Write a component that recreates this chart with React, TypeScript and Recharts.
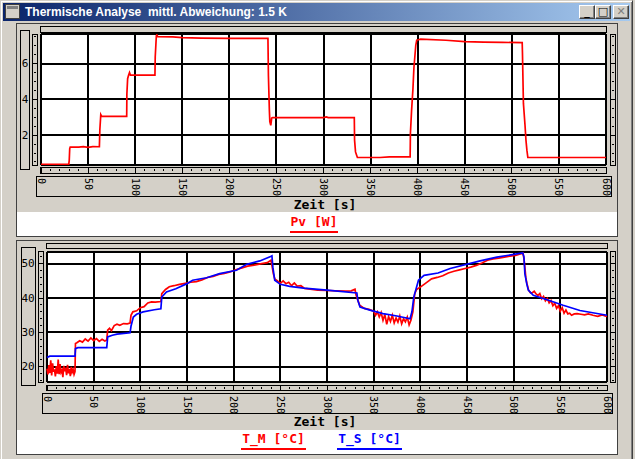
import React from "react";
import { LineChart, Line, XAxis, YAxis, CartesianGrid, ReferenceLine } from "recharts";

const FACE = "#D4D0C8";
const MONO = "'DejaVu Sans Mono', monospace";

// time axis [s]
const timeLabels = [0, 50, 100, 150, 200, 250, 300, 350, 400, 450, 500, 550, 600];
const timeMinor = Array.from({ length: 61 }, (_, i) => i * 10);

// Pv [W]
const pvLabels = [2, 4, 6];
const pvMinor = [0.5, 1, 1.5, 2, 2.5, 3, 3.5, 4, 4.5, 5, 5.5, 6, 6.5, 7, 7.5];
const pvDomain = [0.33, 7.65];
const pvT = [0, 29.5, 30, 30.5, 31, 40, 45, 50, 55, 62, 62.5, 63.5, 64.5, 91, 91.2, 92, 93, 94, 95, 121, 121.3, 122.5, 123, 124, 140, 150, 170, 200, 241, 241.5, 242.5, 243, 244, 245, 246, 300, 303, 305, 332.7, 333, 334, 335, 336, 360, 370, 392, 392.3, 393.5, 395, 396, 398, 399, 401, 403, 430, 450, 470, 490, 511, 511.3, 512.3, 514, 515, 516, 517, 600];
const pvW = [0.36, 0.36, 0.6, 1.25, 1.33, 1.33, 1.36, 1.32, 1.36, 1.35, 2.3, 3.15, 3.05, 3.05, 4.3, 5.15, 5.35, 5.5, 5.35, 5.35, 6.37, 7.55, 7.6, 7.5, 7.49, 7.45, 7.42, 7.4, 7.4, 5.35, 3.4, 2.75, 2.55, 2.95, 2.98, 2.98, 3.02, 2.98, 2.98, 1.72, 1.06, 0.9, 0.75, 0.75, 0.78, 0.78, 2.09, 3.34, 4.6, 5.75, 7.02, 7.3, 7.33, 7.36, 7.3, 7.22, 7.2, 7.18, 7.17, 6.56, 3.77, 2.55, 1.72, 1.16, 0.75, 0.75];

// temperatures [°C]
const tempLabels = [20, 30, 40, 50];
const tempMinor = [16, 18, 20, 22, 24, 26, 28, 30, 32, 34, 36, 38, 40, 42, 44, 46, 48, 50, 52];
const tempDomain = [15.6, 53.4];
const tsT = [0, 3, 30, 30.5, 33, 64, 65, 70, 75, 89, 90, 92.5, 96, 103, 115, 122, 123, 128, 138, 150, 156, 171, 185, 203, 214, 228, 239.6, 241, 242, 243, 244, 250, 260, 275, 300, 332, 333, 335.4, 346, 360, 375, 389, 391, 393, 398, 404, 419, 432, 464, 482, 500, 509.7, 511, 512, 514, 515.7, 521, 535, 553, 571, 600];
const tsV = [22.7, 23.1, 23.1, 25.3, 25.6, 25.6, 28.7, 29.2, 29.5, 29.9, 31.8, 34.5, 35.3, 36.0, 36.6, 36.9, 40.3, 41.8, 42.7, 44.2, 45.2, 45.9, 47.1, 48.1, 49.8, 50.8, 52.1, 52.3, 49, 47.1, 45.2, 44.0, 43.4, 42.9, 42.3, 41.5, 39.4, 37.4, 36.5, 35.5, 34.8, 34.0, 36, 40.3, 45.2, 46.6, 47.3, 48.6, 50.8, 51.9, 52.7, 53.1, 52, 47.1, 44.2, 42.3, 40.8, 39.6, 37.9, 36.4, 35.0];
const tmT = [0, 1, 2, 3, 4, 5, 6, 7, 8, 9, 10, 11, 12, 13, 14, 15, 16, 17, 18, 19, 20, 21, 22, 23, 24, 25, 26, 27, 28, 29, 30, 30.5, 32, 35, 38, 41, 44, 47, 50, 53, 56, 59, 62, 64, 65, 67, 69, 72, 75, 78, 82, 86, 89, 90, 92, 96, 100, 104, 108, 112, 116, 122, 123, 127, 131, 136, 142, 148, 154, 160, 166, 172, 178, 184, 190, 196, 203, 209, 215, 222, 230, 236, 240, 241, 242.5, 244, 247, 250, 253, 256, 259, 262, 265, 268, 272, 276, 282, 290, 300, 310, 320, 326, 330, 331, 333, 335, 340, 345, 350, 352, 354, 356, 358, 360, 362, 364, 366, 368, 370, 372, 374, 376, 378, 380, 382, 384, 386, 388, 390, 392, 394, 396, 400, 404, 408, 412, 418, 424, 430, 436, 442, 448, 454, 460, 466, 472, 478, 484, 490, 496, 502, 508, 510, 511, 512, 513, 514, 516, 518, 520, 522, 524, 526, 528, 530, 532, 534, 536, 538, 540, 542, 544, 546, 548, 550, 552, 554, 556, 558, 560, 562, 565, 568, 572, 576, 580, 585, 590, 595, 598, 600];
const tmV = [19.5, 17.8, 20.5, 18.2, 21.9, 17.5, 21.0, 18.6, 19.3, 17.2, 20.2, 18.0, 22.1, 17.9, 20.8, 18.4, 19.0, 17.0, 20.3, 18.7, 19.8, 17.6, 20.6, 18.1, 19.4, 17.3, 20.0, 18.5, 19.2, 17.8, 18.6, 26.8, 27.0, 27.6, 27.2, 28.1, 27.5, 28.4, 27.6, 28.2, 27.4, 28.0, 27.5, 27.8, 30.7, 31.2, 30.5, 32.0, 32.4, 32.1, 32.6, 32.5, 32.7, 35.0, 36.0, 36.3, 37.2, 37.5, 38.6, 38.9, 38.8, 39.0, 41.3, 42.5, 43.3, 43.6, 44.0, 44.3, 44.6, 44.8, 45.3, 46.0, 46.3, 46.9, 47.2, 47.6, 48.3, 48.8, 49.3, 49.6, 50.0, 50.3, 51.0, 49.5, 47.1, 45.6, 45.0, 44.3, 45.0, 44.2, 44.6, 43.6, 44.4, 43.5, 43.6, 42.8, 42.6, 42.3, 42.2, 42.1, 42.0, 42.1, 42.6, 41.0, 39.4, 37.9, 37.0, 36.7, 36.2, 35.0, 36.0, 34.5, 35.8, 33.5, 35.2, 32.4, 34.6, 33.2, 35.0, 32.8, 34.2, 33.0, 34.8, 32.5, 34.0, 33.1, 34.5, 32.2, 33.6, 36.0, 41.3, 42.5, 43.2, 44.0, 44.8, 45.6, 46.0, 46.5, 47.3, 47.8, 48.2, 48.6, 49.0, 49.5, 50.2, 51.0, 51.4, 51.6, 51.9, 52.2, 52.4, 52.9, 53.1, 51.5, 49.0, 46.0, 44.5, 42.3, 41.5, 41.6, 42.0, 41.2, 40.8, 41.3, 39.8, 40.5, 39.2, 39.9, 38.6, 39.3, 37.8, 38.5, 37.0, 37.8, 36.2, 37.2, 35.6, 36.5, 35.4, 35.6, 35.0, 35.4, 35.5, 35.3, 35.1, 35.4, 35.0, 34.7, 35.1, 34.8, 34.7];

const zip = (t: number[], v: number[]) => t.map((x, i) => ({ t: x, v: v[i] }));

const stripH = (y0: number, y1: number, majors: number[]) => (p: any) => {
  const v = p.payload.value;
  const m = (y0 + y1) / 2;
  return majors.includes(v) ? (
    <line x1={p.x} x2={p.x} y1={y0} y2={y1} stroke="#000" shapeRendering="crispEdges" />
  ) : (
    <line x1={p.x} x2={p.x} y1={m - 1} y2={m + 1} stroke="#000" shapeRendering="crispEdges" />
  );
};

const stripV = (x0: number, x1: number, majors: number[], labelX?: number, labels?: number[]) => (p: any) => {
  const v = p.payload.value;
  const m = (x0 + x1) / 2;
  return (
    <g>
      {majors.includes(v) ? (
        <line x1={x0} x2={x1} y1={p.y} y2={p.y} stroke="#000" shapeRendering="crispEdges" />
      ) : (
        <line x1={m - 1} x2={m + 1} y1={p.y} y2={p.y} stroke="#000" shapeRendering="crispEdges" />
      )}
      {labelX !== undefined && labels && labels.includes(v) && (
        <text x={labelX} y={p.y} textAnchor="middle" dominantBaseline="central" fontSize={11} fontFamily={MONO} fill="#000">
          {v}
        </text>
      )}
    </g>
  );
};

const timeTick = (y0: number, y1: number, labelTop: number) => (p: any) => {
  const v = p.payload.value;
  const major = timeLabels.includes(v);
  const m = (y0 + y1) / 2;
  return (
    <g>
      {major ? (
        <line x1={p.x} x2={p.x} y1={y0} y2={y1} stroke="#000" shapeRendering="crispEdges" />
      ) : (
        <line x1={p.x} x2={p.x} y1={m - 1} y2={m + 1} stroke="#000" shapeRendering="crispEdges" />
      )}
      {major && (
        <text transform={`translate(${p.x},${labelTop}) rotate(90)`} textAnchor="start" dominantBaseline="central" fontSize={10} fontFamily={MONO} fill="#000">
          {v}
        </text>
      )}
    </g>
  );
};

function Box({ l, t, w, h, bg = FACE, border = "1px solid #000" }: any) {
  return <div style={{ position: "absolute", left: l, top: t, width: w, height: h, background: bg, border, boxSizing: "border-box" }} />;
}

function Plot({ top, height, plot, domain, yLabels, yMinor, yLabelX, strips, series }: any) {
  const lines: number[] = yLabels;
  return (
    <div style={{ position: "absolute", left: 0, top, width: 635, height }}>
      <LineChart width={635} height={height} margin={{ top: 0, right: 0, bottom: 0, left: 0 }}>
        <CartesianGrid fill="#fff" horizontal={false} vertical={false} />
        <XAxis dataKey="t" type="number" domain={[0, 600]} ticks={timeMinor} interval={0} height={height - plot.bottom} axisLine={false} tickLine={false} tick={timeTick(strips.bottom[0], strips.bottom[1], strips.labelTop)} />
        <XAxis xAxisId="top" orientation="top" dataKey="t" type="number" domain={[0, 600]} ticks={timeMinor} interval={0} height={plot.top} axisLine={false} tickLine={false} tick={stripH(strips.top[0], strips.top[1], timeLabels)} />
        <YAxis type="number" domain={domain} allowDataOverflow ticks={yMinor} interval={0} width={plot.left} axisLine={false} tickLine={false} tick={stripV(strips.left[0], strips.left[1], lines, yLabelX, yLabels)} />
        <YAxis yAxisId="right" orientation="right" type="number" domain={domain} allowDataOverflow ticks={yMinor} interval={0} width={635 - plot.right} axisLine={false} tickLine={false} tick={stripV(strips.right[0], strips.right[1], lines)} />
        {timeLabels.map((v) => (
          <ReferenceLine key={"x" + v} x={v} stroke="#000" strokeWidth={2} shapeRendering="crispEdges" />
        ))}
        {[domain[0], ...yLabels, domain[1]].map((v: number) => (
          <ReferenceLine key={"y" + v} y={v} stroke="#000" strokeWidth={2} shapeRendering="crispEdges" />
        ))}
        {series.map((s: any) => (
          <Line key={s.name} data={s.data} dataKey="v" type="linear" stroke={s.color} strokeWidth={1.7} dot={false} isAnimationActive={false} />
        ))}
      </LineChart>
    </div>
  );
}

const legendText: React.CSSProperties = { position: "absolute", fontFamily: MONO, fontWeight: "bold", fontSize: 13, lineHeight: "15px", textAlign: "center", whiteSpace: "pre" };

function Legend({ l, t, w, color, text }: any) {
  return (
    <>
      <div style={{ ...legendText, left: l, top: t, width: w, color }}>{text}</div>
      <div style={{ position: "absolute", left: l, top: t + 17, width: w, height: 2, background: color }} />
    </>
  );
}

function Btn({ l, w = 16, children, color = "#000" }: any) {
  return (
    <div style={{ position: "absolute", left: l, top: 5, width: w, height: 14, boxSizing: "border-box", background: FACE, borderTop: "1px solid #fff", borderLeft: "1px solid #fff", borderRight: "1px solid #404040", borderBottom: "1px solid #404040", boxShadow: "inset -1px -1px 0 #808080", color, fontFamily: "'DejaVu Sans', sans-serif", fontWeight: "bold", fontSize: 11, lineHeight: "12px", textAlign: "center" }}>
      {children}
    </div>
  );
}

export default function App() {
  return (
    <div style={{ position: "absolute", left: 0, top: 0, width: 635, height: 459, background: FACE, overflow: "hidden" }}>
      {/* window frame */}
      <div style={{ position: "absolute", left: 0, top: 0, width: 633, height: 459, boxSizing: "border-box", borderLeft: "1px solid " + FACE, borderTop: "1px solid " + FACE, borderRight: "1px solid #404040", boxShadow: "inset 1px 1px 0 #fff, inset -1px 0 0 #808080" }} />
      {/* title bar */}
      <div style={{ position: "absolute", left: 3, top: 3, width: 627, height: 18, background: "linear-gradient(to right, #0A246A, #A6CAF0)" }} />
      <div style={{ position: "absolute", left: 5, top: 4, width: 15, height: 15, background: FACE, border: "1px solid #404040", boxSizing: "border-box" }}>
        <div style={{ margin: 1, height: 3, background: "#808080" }} />
      </div>
      <div style={{ position: "absolute", left: 25, top: 4, height: 16, lineHeight: "16px", color: "#fff", fontFamily: "'Liberation Sans', Arial, sans-serif", fontWeight: "bold", fontSize: 12, whiteSpace: "pre" }}>
        Thermische Analyse  mittl. Abweichung: 1.5 K
      </div>
      <Btn l={579}>_</Btn>
      <Btn l={595}>□</Btn>
      <Btn l={613} color="#808080">✕</Btn>

      {/* panel 1 */}
      <Box l={16} t={23} w={602} h={214} border="1px solid #404040" />
      <Box l={17} t={212} w={600} h={24} bg="#fff" border="none" />
      <Box l={20} t={30} w={10} h={140} />
      <Box l={32} t={34} w={6} h={132} />
      <Box l={40} t={26} w={567} h={7} />
      <Box l={40} t={167} w={567} h={7} />
      <Box l={610} t={34} w={6} h={132} />
      <Box l={36} t={176} w={576} h={21} />
      <div style={{ ...legendText, left: 225, top: 197, width: 200, color: "#000" }}>Zeit [s]</div>
      <Legend l={290} t={214} w={48} color="#ff0000" text="Pv [W]" />

      {/* panel 2 */}
      <Box l={16} t={240} w={602} h={215} border="1px solid #404040" />
      <Box l={17} t={430} w={600} h={24} bg="#fff" border="none" />
      <Box l={21} t={247} w={15} h={139} />
      <Box l={38} t={251} w={6} h={132} />
      <Box l={46} t={243} w={562} h={6} />
      <Box l={46} t={385} w={562} h={6} />
      <Box l={610} t={251} w={6} h={132} />
      <Box l={42} t={393} w={571} h={21} />
      <div style={{ ...legendText, left: 225, top: 414, width: 200, color: "#000" }}>Zeit [s]</div>
      <Legend l={241} t={431} w={65} color="#ff0000" text="T_M [°C]" />
      <Legend l={337} t={431} w={65} color="#0000ff" text="T_S [°C]" />

      <Plot
        top={0}
        height={212}
        plot={{ left: 41, right: 606, top: 34, bottom: 165 }}
        domain={pvDomain}
        yLabels={pvLabels}
        yMinor={pvMinor}
        yLabelX={25}
        strips={{ top: [26, 32], bottom: [167, 173], left: [32, 37], right: [610, 615], labelTop: 178 }}
        series={[{ name: "Pv", color: "#ff0000", data: zip(pvT, pvW) }]}
      />
      <Plot
        top={238}
        height={192}
        plot={{ left: 47, right: 607, top: 14, bottom: 144 }}
        domain={tempDomain}
        yLabels={tempLabels}
        yMinor={tempMinor}
        yLabelX={28}
        strips={{ top: [5, 11], bottom: [147, 153], left: [38, 43], right: [610, 615], labelTop: 158 }}
        series={[
          { name: "T_M", color: "#ff0000", data: zip(tmT, tmV) },
          { name: "T_S", color: "#0000ff", data: zip(tsT, tsV) },
        ]}
      />
    </div>
  );
}
